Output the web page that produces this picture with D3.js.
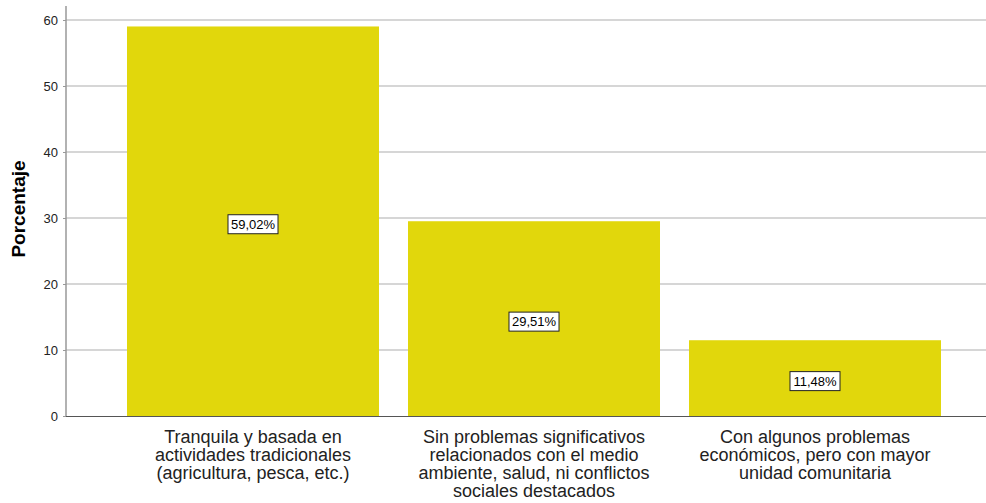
<!DOCTYPE html>
<html><head><meta charset="utf-8">
<script src="https://cdn.jsdelivr.net/npm/d3@7"></script>
<style>body{margin:0;background:#fff}svg{display:block}</style>
</head><body><svg id="c" width="986" height="503"></svg>
<script>
const categories = [
  ["Tranquila y basada en", "actividades tradicionales", "(agricultura, pesca, etc.)"],
  ["Sin problemas significativos", "relacionados con el medio", "ambiente, salud, ni conflictos", "sociales destacados"],
  ["Con algunos problemas", "económicos, pero con mayor", "unidad comunitaria"]
];
const values = [59.02, 29.51, 11.48];
const valueLabels = ["59,02%", "29,51%", "11,48%"];
const yTicks = [0, 10, 20, 30, 40, 50, 60];
const yTitle = "Porcentaje";

const svg = d3.select("#c");
const font = "'Liberation Sans', Arial, sans-serif";
const y = d3.scaleLinear().domain([0, 60]).range([416, 20]);
const x = d3.scaleBand().domain(d3.range(values.length)).range([112.5, 955.5]).paddingInner(0.1032).paddingOuter(0.0516);
const axisX = 66;

// gridlines
svg.append("g").selectAll("line").data(yTicks.filter(d => d > 0)).join("line")
  .attr("x1", axisX).attr("x2", 986).attr("y1", d => y(d)).attr("y2", d => y(d))
  .attr("stroke", "#c8c8c8").attr("stroke-width", 1.3);

// bars
svg.append("g").selectAll("rect").data(values).join("rect")
  .attr("x", (d, i) => x(i)).attr("width", x.bandwidth())
  .attr("y", d => y(d)).attr("height", d => y(0) - y(d))
  .attr("fill", "#e1d70c");

// axis
const ax = svg.append("g").attr("transform", `translate(${axisX},0)`)
  .call(d3.axisLeft(y).tickValues(yTicks).tickSize(3).tickPadding(5));
ax.select(".domain").remove();
ax.selectAll(".tick line").attr("stroke", "#999");
ax.selectAll("text").attr("font-family", font).attr("font-size", 13).attr("fill", "#222");
svg.append("line").attr("x1", axisX).attr("x2", axisX).attr("y1", 6).attr("y2", 416.5)
  .attr("stroke", "#999").attr("stroke-width", 1.5);
svg.append("line").attr("x1", axisX).attr("x2", 986).attr("y1", 416.5).attr("y2", 416.5)
  .attr("stroke", "#555").attr("stroke-width", 1);

// y title
svg.append("text").attr("transform", "translate(25,209) rotate(-90)")
  .attr("text-anchor", "middle").attr("font-family", font).attr("font-weight", "bold")
  .attr("font-size", 19).attr("fill", "#000").text(yTitle);

// value labels
const lg = svg.append("g").selectAll("g").data(values).join("g")
  .attr("transform", (d, i) => `translate(${x(i) + x.bandwidth() / 2},${(y(d) + y(0)) / 2 + 3})`);
lg.append("rect").attr("x", -25).attr("y", -9.5).attr("width", 50).attr("height", 19)
  .attr("fill", "#fff").attr("stroke", "#222").attr("stroke-width", 1);
lg.append("text").attr("text-anchor", "middle").attr("dy", "0.36em")
  .attr("font-family", font).attr("font-size", 13).attr("fill", "#000")
  .text((d, i) => valueLabels[i]);

// category labels
const cg = svg.append("g").selectAll("text").data(categories).join("text")
  .attr("x", (d, i) => x(i) + x.bandwidth() / 2).attr("y", 443)
  .attr("text-anchor", "middle").attr("font-family", font).attr("font-size", 18).attr("fill", "#222");
cg.selectAll("tspan").data(d => d).join("tspan")
  .attr("x", function () { return this.parentNode.getAttribute("x"); })
  .attr("dy", (d, j) => j === 0 ? 0 : 18).text(d => d);
</script></body></html>
